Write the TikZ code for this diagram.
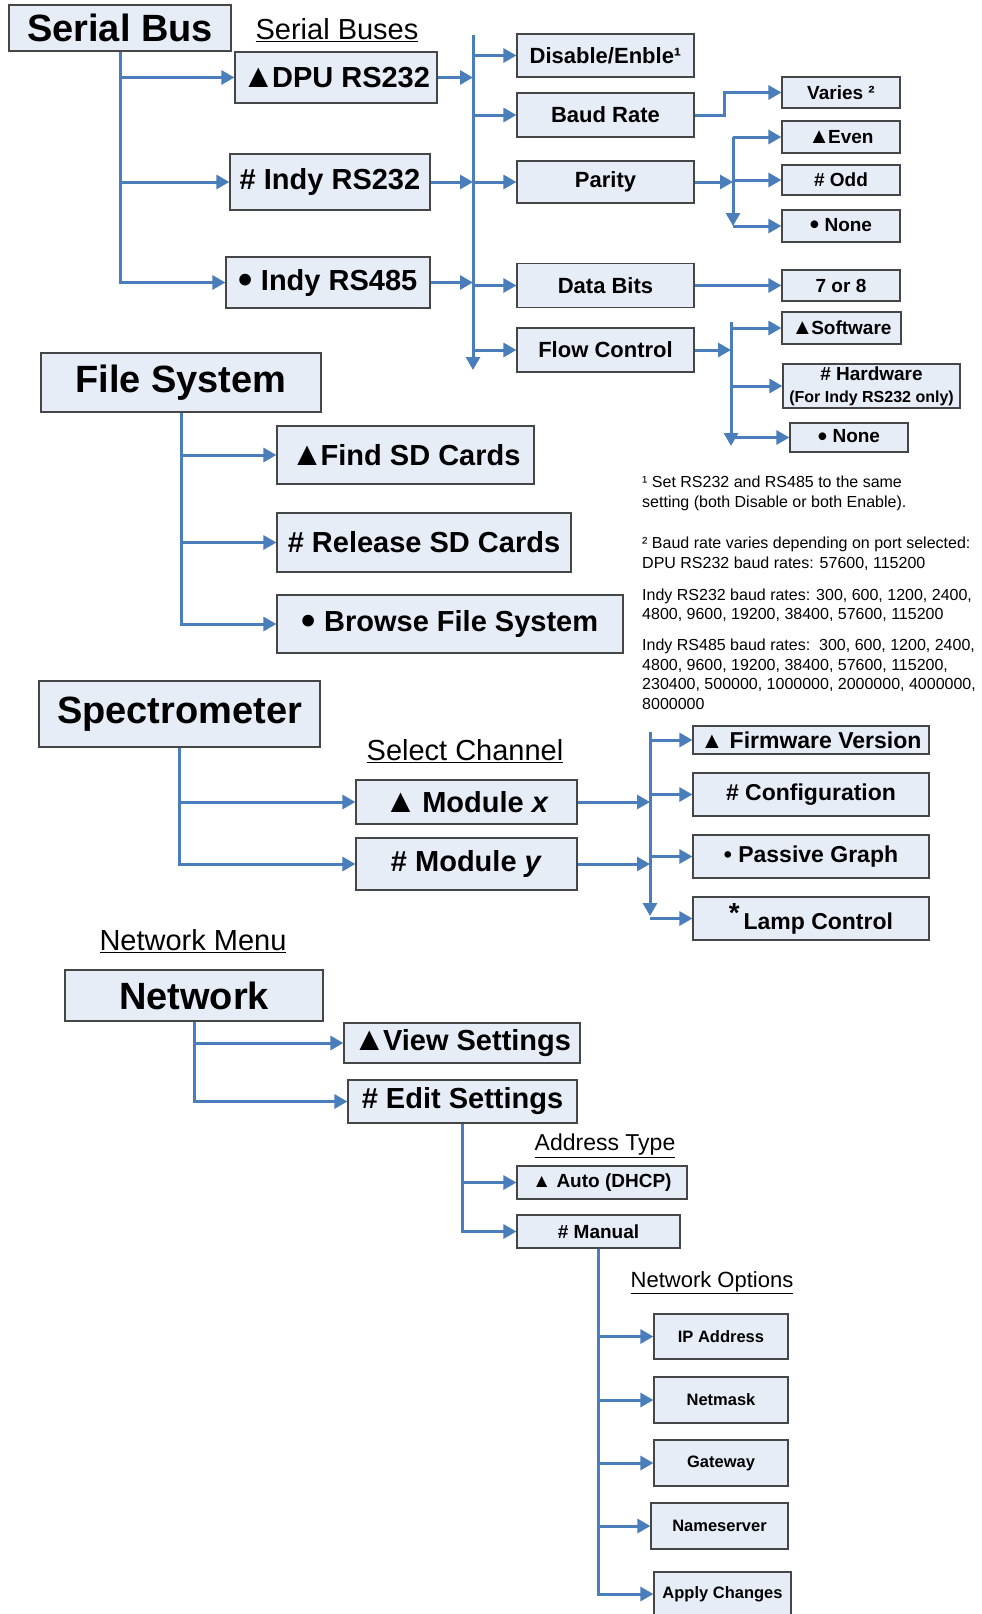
\documentclass[tikz,border=0pt]{standalone}
\usepackage{fontspec}
\setmainfont{Liberation Sans}
\usetikzlibrary{arrows.meta}
\definecolor{boxfill}{RGB}{231,237,247}
\definecolor{boxline}{RGB}{70,70,70}
\definecolor{linkblue}{RGB}{74,126,187}
\newcommand\uptri{\scalebox{1.15}{▲}\kern-0.1em}
\newcommand\dotmark{\raisebox{-0.12em}{\scalebox{1.4}{•}}}
\tikzset{
  menubox/.style={draw=boxline,fill=boxfill,line width=1.2pt,inner sep=0pt,align=center},
  titlebox/.style={menubox,font=\fontsize{38}{44}\selectfont\bfseries},
  itembox/.style={menubox,font=\fontsize{29}{34}\selectfont\bfseries},
  setbox/.style={menubox,font=\fontsize{22}{26}\selectfont\bfseries},
  valbox/.style={menubox,font=\fontsize{19}{22}\selectfont\bfseries},
  netbox/.style={menubox,font=\fontsize{16.5}{19}\selectfont\bfseries},
  heading/.style={inner sep=0pt,font=\fontsize{29}{34}\selectfont},
  fnote/.style={inner sep=0pt,anchor=base west,font=\fontsize{16}{20}\selectfont},
  link/.style={draw=linkblue,line width=3pt},
  arr/.style={link,-{Triangle[length=13pt,width=14pt]}}
}
\begin{document}
\begin{tikzpicture}[x=1pt,y=-1pt]
\useasboundingbox (0,0) rectangle (982,1614);
% serial bus
\node[titlebox,minimum width=222,minimum height=46] (serialbus) at (120,28) {Serial Bus};
\node[heading] (serialbuses) at (337,30) {\underline{Serial Buses}};
\node[itembox,minimum width=202,minimum height=51] (dpu) at (336,77.5) {\uptri DPU RS232};
\node[itembox,minimum width=200,minimum height=56] (indyA) at (330,182) {\# Indy RS232};
\node[itembox,minimum width=204,minimum height=51] (indyB) at (328,282.5) {\dotmark\ Indy RS485};
\node[setbox,minimum width=177,minimum height=43] (disable) at (605.5,55.5) {Disable/Enble¹};
\node[setbox,minimum width=177,minimum height=44] (baud) at (605.5,115) {Baud Rate};
\node[setbox,minimum width=177,minimum height=42] (parity) at (605.5,182) {Parity};
\node[setbox,minimum width=177,minimum height=44] (databits) at (605.5,285.5) {Data Bits};
\node[setbox,minimum width=177,minimum height=44] (flow) at (605.5,350) {Flow Control};
\node[valbox,minimum width=118,minimum height=31] (varies) at (841,92.5) {Varies ²};
\node[valbox,minimum width=118,minimum height=32] (even) at (841,137) {\uptri Even};
\node[valbox,minimum width=118,minimum height=30] (odd) at (841,180) {\# Odd};
\node[valbox,minimum width=118,minimum height=32] (noneA) at (841,226) {\dotmark\ None};
\node[valbox,minimum width=118,minimum height=31] (seven) at (841,285.5) {7 or 8};
\node[valbox,minimum width=119,minimum height=32] (software) at (841.5,328) {\uptri Software};
\node[valbox,minimum width=177,minimum height=44] (hardware) at (871.5,386) {\# Hardware\\{\fontsize{16}{18}\selectfont(For Indy RS232 only)}};
\node[valbox,minimum width=118,minimum height=29] (noneB) at (849,437.5) {\dotmark\ None};
\coordinate (bus) at (473,35);
\coordinate (busend) at (473,370);
\coordinate (pbus) at (733,137);
\coordinate (pbusend) at (733,226);
\coordinate (fbus) at (731,322);
\coordinate (fbusend) at (731,446);
\draw[arr] (serialbus.south) |- (dpu);
\draw[arr] (serialbus.south) |- (indyA);
\draw[arr] (serialbus.south) |- (indyB);
\draw[arr] (bus) -- (busend);
\draw[arr] (dpu) -- (dpu -| bus);
\draw[arr] (indyA) -- (indyA -| bus);
\draw[arr] (indyB) -- (indyB -| bus);
\draw[arr] (bus |- disable) -- (disable);
\draw[arr] (bus |- baud) -- (baud);
\draw[arr] (bus |- parity) -- (parity);
\draw[arr] (bus |- databits) -- (databits);
\draw[arr] (bus |- flow) -- (flow);
\draw[arr] (baud.east) -- ++(30,0) |- (varies);
\draw[arr] (parity) -- (parity -| pbus);
\draw[arr] (pbus) -- (pbusend);
\draw[arr] (pbus) -- (even);
\draw[arr] (pbus |- odd) -- (odd);
\draw[arr] (pbus |- noneA) -- (noneA);
\draw[arr] (databits) -- (seven);
\draw[arr] (flow) -- (flow -| fbus);
\draw[arr] (fbus) -- (fbusend);
\draw[arr] (fbus |- software) -- (software);
\draw[arr] (fbus |- hardware) -- (hardware);
\draw[arr] (fbus |- noneB) -- (noneB);
% footnotes
\node[fnote] (fnA) at (642,487) {¹ Set RS232 and RS485 to the same};
\node[fnote] (fnB) at (642,507) {setting (both Disable or both Enable).};
\node[fnote] (fnC) at (642,548) {² Baud rate varies depending on port selected:};
\node[fnote] (fnD) at (642,568) {DPU RS232 baud rates: 57600, 115200};
\node[fnote] (fnE) at (642,600) {Indy RS232 baud rates: 300, 600, 1200, 2400,};
\node[fnote] (fnF) at (642,619) {4800, 9600, 19200, 38400, 57600, 115200};
\node[fnote] (fnG) at (642,650) {Indy RS485 baud rates:\ \ 300, 600, 1200, 2400,};
\node[fnote] (fnH) at (642,670) {4800, 9600, 19200, 38400, 57600, 115200,};
\node[fnote] (fnI) at (642,689) {230400, 500000, 1000000, 2000000, 4000000,};
\node[fnote] (fnJ) at (642,709) {8000000};
% file system
\node[titlebox,minimum width=280,minimum height=59] (filesys) at (181,382.5) {File System};
\node[itembox,minimum width=257,minimum height=58] (findsd) at (405.5,455) {\uptri Find SD Cards};
\node[itembox,minimum width=294,minimum height=59] (releasesd) at (424,542.5) {\# Release SD Cards};
\node[itembox,minimum width=346,minimum height=58] (browse) at (450,624) {\dotmark\ Browse File System};
\draw[arr] (filesys.south) |- (findsd);
\draw[arr] (filesys.south) |- (releasesd);
\draw[arr] (filesys.south) |- (browse);
% spectrometer
\node[titlebox,minimum width=281,minimum height=66] (spec) at (179.5,714) {Spectrometer};
\node[heading] (selchan) at (465,751) {\underline{Select Channel}};
\node[itembox,minimum width=221,minimum height=44] (modx) at (466.5,802) {\uptri\ Module \textit{x}};
\node[itembox,minimum width=221,minimum height=52] (mody) at (466.5,864) {\# Module \textit{y}};
\node[menubox,font=\fontsize{23}{27}\selectfont\bfseries,minimum width=236,minimum height=28] (firmware) at (811,740) {▲ Firmware Version};
\node[menubox,font=\fontsize{23}{27}\selectfont\bfseries,minimum width=236,minimum height=43] (config) at (811,794.5) {\# Configuration};
\node[menubox,font=\fontsize{23}{27}\selectfont\bfseries,minimum width=236,minimum height=43] (passive) at (811,856.5) {• Passive Graph};
\node[menubox,font=\fontsize{23}{27}\selectfont\bfseries,minimum width=236,minimum height=43] (lamp) at (811,918.5) {\raisebox{0.3em}{\scalebox{1.2}{*}}\,Lamp Control};
\coordinate (sbus) at (650,732);
\coordinate (sbusend) at (650,916);
\draw[arr] (spec.south) |- (modx);
\draw[arr] (spec.south) |- (mody);
\draw[arr] (modx) -- (modx -| sbus);
\draw[arr] (mody) -- (mody -| sbus);
\draw[arr] (sbus) -- (sbusend);
\draw[arr] (sbus |- firmware) -- (firmware);
\draw[arr] (sbus |- config) -- (config);
\draw[arr] (sbus |- passive) -- (passive);
\draw[arr] (sbus |- lamp) -- (lamp);
% network
\node[heading] (netmenu) at (193,941) {\underline{Network Menu}};
\node[titlebox,minimum width=258,minimum height=51] (network) at (194,995.5) {Network};
\node[itembox,minimum width=236,minimum height=40] (viewset) at (462,1043) {\uptri View Settings};
\node[itembox,minimum width=229,minimum height=43] (editset) at (462.5,1101.5) {\# Edit Settings};
\node[heading,font=\fontsize{23}{27}\selectfont] (addrtype) at (605,1146) {\underline{Address Type}};
\node[valbox,minimum width=170,minimum height=33] (auto) at (602,1182.5) {▲ Auto (DHCP)};
\node[valbox,minimum width=163,minimum height=33] (manual) at (598.5,1231.5) {\# Manual};
\node[heading,font=\fontsize{22}{26}\selectfont] (netopts) at (712,1283) {\underline{Network Options}};
\node[netbox,minimum width=134,minimum height=45] (ipaddr) at (721,1336.5) {IP Address};
\node[netbox,minimum width=134,minimum height=46] (netmask) at (721,1400) {Netmask};
\node[netbox,minimum width=134,minimum height=46] (gateway) at (721,1463) {Gateway};
\node[netbox,minimum width=137,minimum height=46] (nameserver) at (719.5,1526) {Nameserver};
\node[netbox,minimum width=137,minimum height=44] (apply) at (722.5,1594) {Apply Changes};
\draw[arr] (network.south) |- (viewset);
\draw[arr] (network.south) |- (editset);
\draw[arr] (editset.south) |- (auto);
\draw[arr] (editset.south) |- (manual);
\draw[arr] (manual.south) |- (ipaddr);
\draw[arr] (manual.south) |- (netmask);
\draw[arr] (manual.south) |- (gateway);
\draw[arr] (manual.south) |- (nameserver);
\draw[arr] (manual.south) |- (apply);
\end{tikzpicture}
\end{document}
